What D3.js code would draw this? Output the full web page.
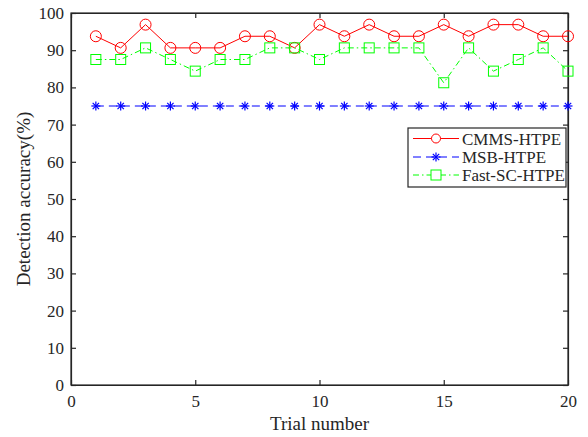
<!DOCTYPE html>
<html>
<script src="https://d3js.org/d3.v7.min.js"></script>
<style>
body { margin: 0; background: #fff; }
text { font-family: "Liberation Serif", "Times New Roman", serif; }
</style>
<body>
<svg width="588" height="437"></svg>
<script>

var trials = d3.range(1, 21);
var cmms = [93.75, 90.625, 96.875, 90.625, 90.625, 90.625, 93.75, 93.75, 90.625, 96.875,
            93.75, 96.875, 93.75, 93.75, 96.875, 93.75, 96.875, 96.875, 93.75, 93.75];
var msb = [75, 75, 75, 75, 75, 75, 75, 75, 75, 75, 75, 75, 75, 75, 75, 75, 75, 75, 75, 75];
var fastsc = [87.5, 87.5, 90.625, 87.5, 84.375, 87.5, 87.5, 90.625, 90.625, 87.5,
              90.625, 90.625, 90.625, 90.625, 81.25, 90.625, 84.375, 87.5, 90.625, 84.375];
var xTicks = [0, 5, 10, 15, 20];
var yTicks = [0, 10, 20, 30, 40, 50, 60, 70, 80, 90, 100];
var legendNames = ["CMMS-HTPE", "MSB-HTPE", "Fast-SC-HTPE"];

var svg = d3.select("svg");
var pLeft = 71, pRight = 568, pTop = 13, pBottom = 385;

var x = d3.scaleLinear().domain([0, 20]).range([pLeft, pRight]);
var y = d3.scaleLinear().domain([0, 100]).range([pBottom, pTop]);

// axes with inward ticks
svg.append("g").attr("transform", "translate(0," + pBottom + ")")
    .call(d3.axisBottom(x).tickValues(xTicks).tickSize(-5).tickPadding(10).tickSizeOuter(0));
svg.append("g").attr("transform", "translate(" + pLeft + ",0)")
    .call(d3.axisLeft(y).tickValues(yTicks).tickSize(-5).tickPadding(7).tickSizeOuter(0));
// mirrored ticks on top and right
svg.append("g").attr("transform", "translate(0," + pTop + ")")
    .call(d3.axisTop(x).tickValues(xTicks).tickSize(-5).tickFormat("").tickSizeOuter(0));
svg.append("g").attr("transform", "translate(" + pRight + ",0)")
    .call(d3.axisRight(y).tickValues(yTicks).tickSize(-5).tickFormat("").tickSizeOuter(0));

svg.selectAll(".domain, .tick line").attr("stroke", "#262626").attr("stroke-width", 1.2);
svg.selectAll(".tick text").attr("font-family", "Liberation Serif").attr("font-size", 17).attr("fill", "#262626");

svg.append("rect").attr("x", pLeft).attr("y", pTop).attr("width", pRight - pLeft).attr("height", pBottom - pTop)
    .attr("fill", "none").attr("stroke", "#262626").attr("stroke-width", 1.2);

svg.append("text").attr("x", (pLeft + pRight) / 2).attr("y", 430).attr("text-anchor", "middle")
    .attr("font-size", 19).attr("fill", "#262626").text("Trial number");
svg.append("text").attr("transform", "translate(30," + ((pTop + pBottom) / 2) + ")rotate(-90)")
    .attr("text-anchor", "middle").attr("font-size", 19).attr("fill", "#262626").text("Detection accuracy(%)");

var line = d3.line().x(function (d, i) { return x(trials[i]); }).y(function (d) { return y(d); });

// CMMS-HTPE
svg.append("path").datum(cmms).attr("d", line).attr("fill", "none").attr("stroke", "#ff0000").attr("stroke-width", 1);
svg.append("g").selectAll("circle").data(cmms).enter().append("circle")
    .attr("cx", function (d, i) { return x(trials[i]); }).attr("cy", function (d) { return y(d); })
    .attr("r", 5.5).attr("fill", "none").attr("stroke", "#ff0000").attr("stroke-width", 1);

// MSB-HTPE
svg.append("path").datum(msb).attr("d", line).attr("fill", "none").attr("stroke", "#0000ff")
    .attr("stroke-width", 1).attr("stroke-dasharray", "8,5");
function star(g, cx, cy) {
    var r = 4.5;
    [0, 45, 90, 135].forEach(function (a) {
        var rad = a * Math.PI / 180;
        g.append("line").attr("x1", cx - r * Math.cos(rad)).attr("y1", cy - r * Math.sin(rad))
            .attr("x2", cx + r * Math.cos(rad)).attr("y2", cy + r * Math.sin(rad))
            .attr("stroke", "#0000ff").attr("stroke-width", 1.2);
    });
}
var stars = svg.append("g");
msb.forEach(function (d, i) { star(stars, x(trials[i]), y(d)); });

// Fast-SC-HTPE
svg.append("path").datum(fastsc).attr("d", line).attr("fill", "none").attr("stroke", "#00ff00")
    .attr("stroke-width", 1).attr("stroke-dasharray", "6,3,1.5,3");
svg.append("g").selectAll("rect").data(fastsc).enter().append("rect")
    .attr("x", function (d, i) { return x(trials[i]) - 5; }).attr("y", function (d) { return y(d) - 5; })
    .attr("width", 10).attr("height", 10).attr("fill", "none").attr("stroke", "#00ff00").attr("stroke-width", 1);

// Legend
var lg = svg.append("g");
lg.append("rect").attr("x", 408).attr("y", 128).attr("width", 158).attr("height", 59)
    .attr("fill", "#fff").attr("stroke", "#262626").attr("stroke-width", 1.2);
var rowY = [138.5, 157, 175];
var colors = ["#ff0000", "#0000ff", "#00ff00"];
var dashes = [null, "8,5", "6,3,1.5,3"];
legendNames.forEach(function (name, i) {
    lg.append("line").attr("x1", 413).attr("x2", 459).attr("y1", rowY[i]).attr("y2", rowY[i])
        .attr("stroke", colors[i]).attr("stroke-width", 1).attr("stroke-dasharray", dashes[i]);
    if (i == 0) lg.append("circle").attr("cx", 436).attr("cy", rowY[i]).attr("r", 4.5)
        .attr("fill", "#fff").attr("stroke", colors[i]);
    if (i == 1) star(lg, 436, rowY[i]);
    if (i == 2) lg.append("rect").attr("x", 431).attr("y", rowY[i] - 5).attr("width", 10).attr("height", 10)
        .attr("fill", "#fff").attr("stroke", colors[i]);
    lg.append("text").attr("x", 462).attr("y", rowY[i] + 6).attr("font-size", 17).attr("fill", "#262626").text(name);
});

</script>
</body>
</html>
